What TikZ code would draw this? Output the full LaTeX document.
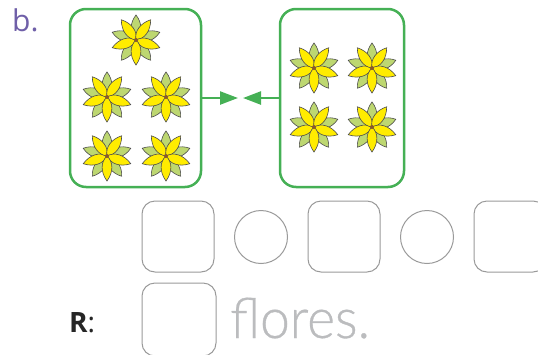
\documentclass[tikz,border=0pt]{standalone}
\usepackage{fontspec}
\setmainfont{Open Sans}
\newfontfamily\thinfont[FakeBold=0.6]{Lato Light}
\usetikzlibrary{arrows.meta}
\definecolor{boxgreen}{HTML}{45B055}
\definecolor{petalgreen}{HTML}{BDD771}
\definecolor{petalyellow}{HTML}{FFEC00}
\definecolor{seedbrown}{HTML}{8A5A2B}
\definecolor{blankgray}{HTML}{9A9A9A}
\definecolor{lettergray}{HTML}{BBBCBE}
\definecolor{letterpurple}{HTML}{6F5FA8}
\tikzset{
    groupbox/.style={draw=boxgreen,line width=2.5pt,rounded corners=16pt,inner sep=0pt},
    blankbox/.style={draw=blankgray,line width=1pt,rounded corners=13pt,minimum width=72pt,minimum height=71pt,inner sep=0pt},
    blankcircle/.style={draw=blankgray,line width=1pt,circle,minimum size=53pt,inner sep=0pt},
    compare/.style={draw=boxgreen,line width=2.4pt,-{Triangle[length=18pt,width=13pt]}},
    petal/.style={draw=black!70,line width=0.6pt}
}
\newcommand{\flower}[1]{
    \foreach \ang in {90,18,-54,-126,162}
        \draw[petal,fill=petalgreen,rotate around={\ang:(#1)},shift={(#1)}]
            (0,0) .. controls (6,6.5) and (17,6.5) .. (25,0) .. controls (17,-6.5) and (6,-6.5) .. (0,0);
    \foreach \ang in {198,126,54,-18,-90}
        \draw[petal,fill=petalyellow,rotate around={\ang:(#1)},shift={(#1)}]
            (0,0) .. controls (6,6.5) and (16,6.5) .. (25,0) .. controls (16,-6.5) and (6,-6.5) .. (0,0);
    \fill[seedbrown] (#1) circle (2pt);
}
\begin{document}
\begin{tikzpicture}[x=1pt,y=-1pt]
    \useasboundingbox (0,0) rectangle (538,354);
    \node[groupbox,minimum width=131pt,minimum height=178pt] (leftbox) at (135.5,98) {};
    \node[groupbox,minimum width=124pt,minimum height=178pt] (rightbox) at (342,98) {};
    \coordinate (lefttip) at (238,98);
    \coordinate (righttip) at (243,98);
    \draw[compare] (leftbox.east) -- (lefttip);
    \draw[compare] (rightbox.west) -- (righttip);
    \foreach \px/\py in {136/40,107/97,166/97,107/156,166/156,314/68,372/68,314/127,372/127}
        {\flower{\px,\py}}
    \node[blankbox] (blankA) at (178,236.5) {};
    \node[blankcircle] (circleA) at (261,237) {};
    \node[blankbox] (blankB) at (344,236.5) {};
    \node[blankcircle] (circleB) at (427,237) {};
    \node[blankbox] (blankC) at (510,236.5) {};
    \node[blankbox,minimum width=74pt,minimum height=73pt] (blankR) at (179,319.5) {};
    \node[anchor=base west,text=letterpurple,font=\fontsize{30}{30}\selectfont,inner sep=0pt] (label) at (12,31) {b.};
    \node[anchor=base west,text=black!85,font=\fontsize{28}{28}\selectfont,inner sep=0pt] (answer) at (69,332) {\textbf{R}:};
    \node[anchor=base west,text=lettergray,font=\thinfont\fontsize{56}{56}\selectfont,inner sep=0pt,xscale=0.95] (word) at (230,338) {flores.};
\end{tikzpicture}
\end{document}
